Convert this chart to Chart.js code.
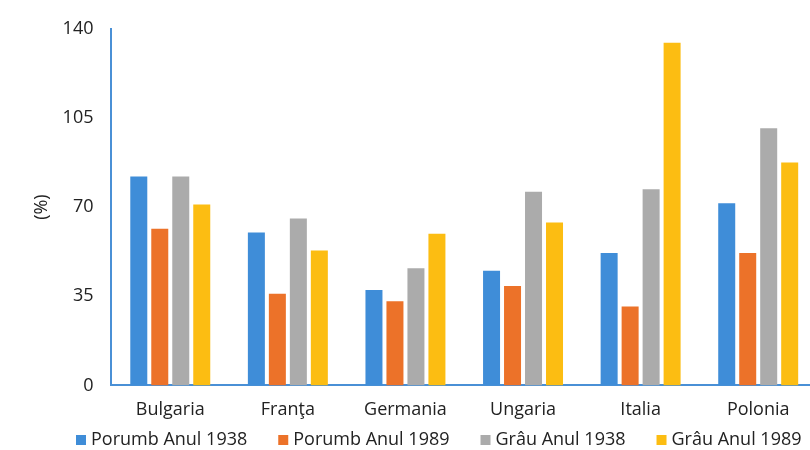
<!DOCTYPE html>
<html>
<head>
<meta charset="utf-8">
<script src="https://cdn.jsdelivr.net/npm/chart.js@4/dist/chart.umd.min.js"></script>
<style>
  html, body { margin: 0; padding: 0; background: #fff; overflow: hidden; }
  #wrap { width: 810px; height: 450px; overflow: hidden; }
  #c { display: block; }
</style>
</head>
<body>
<div id="wrap"><canvas id="c" width="817" height="450"></canvas></div>
<script>
const categories = ["Bulgaria", "Franţa", "Germania", "Ungaria", "Italia", "Polonia"];
const seriesNames = ["Porumb Anul 1938", "Porumb Anul 1989", "Grâu Anul 1938", "Grâu Anul 1989"];
const porumb1938 = [82, 60, 37.5, 45, 52, 71.5];
const porumb1989 = [61.5, 36, 33, 39, 31, 52];
const grau1938 = [82, 65.5, 46, 76, 77, 101];
const grau1989 = [71, 53, 59.5, 64, 134.5, 87.5];
const yTicks = [0, 35, 70, 105, 140];
const colors = ["#3f8dd8", "#ec7229", "#ababab", "#fcbd12"];

const seriesValues = [porumb1938, porumb1989, grau1938, grau1989];
const FONT = "'Open Sans', 'Noto Sans', sans-serif";
const TEXT = "#222";

// legend drawn under the x labels, from the chart's own datasets
const bottomLegend = {
  id: "bottomLegend",
  afterDraw(chart) {
    const ctx = chart.ctx;
    ctx.save();
    ctx.font = "18px " + FONT;
    ctx.textBaseline = "middle";
    ctx.textAlign = "left";
    const y = 440, box = 10, gapText = 5, gapItem = 31;
    let x = 76;
    chart.data.datasets.forEach((ds) => {
      ctx.fillStyle = ds.backgroundColor;
      ctx.fillRect(x, y - box / 2, box, box);
      x += box + gapText;
      ctx.fillStyle = TEXT;
      ctx.fillText(ds.label, x, y);
      x += ctx.measureText(ds.label).width + gapItem;
    });
    ctx.restore();
  }
};

new Chart(document.getElementById("c"), {
  type: "bar",
  data: {
    labels: categories,
    datasets: seriesNames.map((n, i) => ({
      label: n,
      data: seriesValues[i],
      backgroundColor: colors[i],
      borderWidth: 0,
      barPercentage: 0.81,
      categoryPercentage: 0.714
    }))
  },
  plugins: [bottomLegend],
  options: {
    responsive: false,
    animation: false,
    layout: { padding: { left: 31, right: 0, top: 18, bottom: 15 } },
    plugins: {
      legend: { display: false },
      tooltip: { enabled: false }
    },
    scales: {
      x: {
        grid: { display: false, drawTicks: false },
        border: { display: true, color: "#4a90d6", width: 2 },
        ticks: { font: { family: FONT, size: 18 }, color: TEXT, padding: 14 }
      },
      y: {
        min: 0,
        max: 140,
        afterBuildTicks: (s) => { s.ticks = yTicks.map(v => ({ value: v })); },
        grid: { display: false, drawTicks: false },
        border: { display: true, color: "#4a90d6", width: 2 },
        ticks: { font: { family: FONT, size: 18 }, color: TEXT, padding: 18 },
        title: { display: true, text: "(%)", font: { family: FONT, size: 18 }, color: TEXT, padding: { top: 0, bottom: -8 } }
      }
    }
  }
});
</script>
</body>
</html>
